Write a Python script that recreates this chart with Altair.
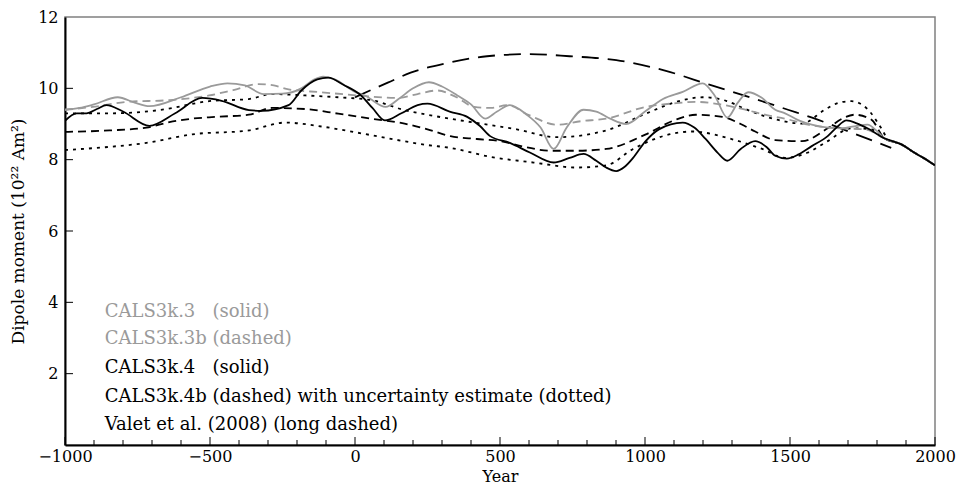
import altair as alt
import pandas as pd

# ---- data ----
gray_solid_year = [-1000, -950, -900, -818, -760, -709, -600, -500, -440, -380, -315, -250, -185, -140, -110, -70, 0, 34, 106, 150, 200, 255, 300, 353, 400, 449, 490, 534, 592, 640, 685, 730, 788, 832, 880, 935, 1000, 1062, 1130, 1199, 1240, 1284, 1320, 1356, 1400, 1449, 1483, 1530, 1575, 1630, 1678, 1730, 1767, 1800, 1825, 1884, 1928, 1960, 2000]
gray_solid_val = [9.40, 9.45, 9.55, 9.75, 9.60, 9.50, 9.75, 10.05, 10.14, 10.08, 9.84, 9.85, 10.0, 10.25, 10.33, 10.25, 9.9, 9.8, 9.48, 9.7, 10.0, 10.17, 10.05, 9.8, 9.55, 9.15, 9.35, 9.53, 9.26, 8.9, 8.3, 8.9, 9.4, 9.35, 9.15, 9.0, 9.35, 9.7, 9.9, 10.14, 9.8, 9.18, 9.6, 9.89, 9.75, 9.4, 9.3, 9.1, 8.98, 8.9, 8.88, 8.95, 8.98, 8.8, 8.6, 8.43, 8.2, 8.05, 7.84]

gray_dash_year = [-1000, -904, -788, -640, -503, -420, -332, -280, -229, -116, 10, 147, 216, 284, 350, 411, 470, 524, 600, 695, 780, 866, 1003, 1100, 1175, 1260, 1346, 1420, 1483, 1562, 1678, 1760, 1825, 1884, 1928, 1960, 2000]
gray_dash_val = [9.4, 9.48, 9.62, 9.67, 9.8, 9.95, 10.12, 10.08, 9.97, 9.89, 9.8, 9.73, 9.84, 9.94, 9.75, 9.48, 9.45, 9.53, 9.25, 8.98, 9.08, 9.15, 9.48, 9.58, 9.62, 9.55, 9.4, 9.25, 9.15, 8.98, 8.88, 8.85, 8.6, 8.43, 8.2, 8.05, 7.84]

black_solid_year = [-1000, -960, -926, -890, -857, -800, -709, -620, -527, -460, -366, -322, -229, -185, -130, -92, -40, 21, 60, 103, 160, 216, 250, 329, 387, 430, 466, 534, 603, 685, 740, 788, 832, 866, 901, 930, 959, 1000, 1048, 1130, 1170, 1209, 1250, 1284, 1330, 1380, 1420, 1449, 1489, 1530, 1575, 1630, 1660, 1695, 1730, 1767, 1825, 1884, 1928, 1960, 2000]
black_solid_val = [9.09, 9.30, 9.30, 9.42, 9.53, 9.35, 8.95, 9.3, 9.73, 9.65, 9.39, 9.37, 9.53, 9.94, 10.25, 10.3, 10.1, 9.8, 9.45, 9.1, 9.3, 9.53, 9.57, 9.34, 9.2, 8.95, 8.66, 8.47, 8.2, 7.92, 8.05, 8.16, 7.97, 7.78, 7.68, 7.8, 8.05, 8.5, 8.85, 9.04, 8.9, 8.58, 8.2, 7.97, 8.3, 8.52, 8.35, 8.11, 8.03, 8.15, 8.38, 8.66, 8.9, 9.1, 9.02, 8.88, 8.6, 8.43, 8.2, 8.05, 7.84]

black_dash_year = [-1000, -846, -719, -640, -561, -480, -366, -286, -171, -58, 55, 171, 250, 329, 420, 500, 590, 671, 760, 866, 1003, 1100, 1175, 1267, 1330, 1380, 1449, 1541, 1630, 1680, 1723, 1781, 1825, 1884, 1928, 1960, 2000]
black_dash_val = [8.78, 8.82, 8.9, 9.05, 9.15, 9.2, 9.26, 9.45, 9.42, 9.29, 9.15, 9.01, 8.85, 8.66, 8.58, 8.52, 8.35, 8.25, 8.25, 8.3, 8.71, 9.1, 9.26, 9.2, 9.0, 8.79, 8.55, 8.52, 8.88, 9.15, 9.26, 9.12, 8.6, 8.43, 8.2, 8.05, 7.84]

upper_year = [-1000, -846, -675, -503, -366, -286, -171, -58, 55, 171, 250, 387, 558, 695, 866, 1003, 1100, 1199, 1280, 1346, 1420, 1483, 1541, 1620, 1670, 1712, 1767, 1815, 1840, 1884, 1928, 1960, 2000]
upper_val = [9.3, 9.3, 9.39, 9.64, 9.7, 9.84, 9.8, 9.75, 9.67, 9.39, 9.26, 9.07, 8.85, 8.63, 8.82, 9.29, 9.6, 9.75, 9.65, 9.42, 9.2, 9.07, 9.01, 9.4, 9.6, 9.64, 9.42, 8.88, 8.55, 8.43, 8.2, 8.05, 7.84]

lower_year = [-1000, -846, -719, -561, -366, -240, -116, 0, 113, 250, 329, 466, 616, 764, 866, 959, 1062, 1164, 1288, 1404, 1483, 1562, 1630, 1712, 1781, 1825, 1884, 1928, 1960, 2000]
lower_val = [8.27, 8.36, 8.47, 8.71, 8.82, 9.04, 8.93, 8.77, 8.6, 8.41, 8.33, 8.08, 7.92, 7.78, 7.84, 8.3, 8.66, 8.79, 8.6, 8.3, 8.05, 8.2, 8.52, 8.88, 8.85, 8.6, 8.43, 8.2, 8.05, 7.84]

valet_year = [0, 113, 192, 318, 455, 603, 740, 901, 1072, 1219, 1380, 1493, 1586, 1699, 1849]
valet_val = [9.75, 10.16, 10.44, 10.71, 10.9, 10.96, 10.9, 10.79, 10.49, 10.11, 9.7, 9.4, 9.15, 8.8, 8.33]

NB = "\u00a0"
legend_text = ["CALS3k.3" + NB * 2 + " (solid)",
               "CALS3k.3b (dashed)",
               "CALS3k.4" + NB * 2 + " (solid)",
               "CALS3k.4b (dashed) with uncertainty estimate (dotted)",
               "Valet et al. (2008) (long dashed)"]
legend_color = ["#9a9a9a", "#9a9a9a", "#000000", "#000000", "#000000"]
legend_y = [3.73, 2.96, 2.16, 1.34, 0.55]
legend_x = [-863, -863, -863, -863, -863]

major_x_ticks = [-1000, -500, 0, 500, 1000, 1500, 2000]
minor_x_ticks = [y for y in range(-900, 2000, 100) if y % 500 != 0]
y_ticks = [2, 4, 6, 8, 10]
y_labels = [2, 4, 6, 8, 10, 12]

W, H = 870, 428
FONT = "DejaVu Serif"
GRAY = "#9a9a9a"

xs = alt.Scale(domain=[-1000, 2000], nice=False, zero=False, padding=0)
ys = alt.Scale(domain=[0, 12], nice=False, zero=False, padding=0)


def series(years, vals):
    return pd.DataFrame({"year": years, "val": vals})


def line(df, color, dash=None, width=1.8):
    kw = dict(color=color, strokeWidth=width, interpolate="monotone", clip=True)
    if dash:
        kw["strokeDash"] = dash
    return alt.Chart(df).mark_line(**kw).encode(
        x=alt.X("year:Q", scale=xs),
        y=alt.Y("val:Q", scale=ys),
    )


base_axes = alt.Chart(series([-1000], [0])).mark_rule(opacity=0).encode(
    x=alt.X("year:Q", scale=xs, title="Year",
            axis=alt.Axis(values=major_x_ticks, ticks=False, grid=False, labelPadding=3,
                          labelFlush=False, labelFont=FONT, labelFontSize=16,
                          titleFont=FONT, titleFontSize=16, titleFontWeight="normal",
                          titleY=23, titleBaseline="top", labelColor="black",
                          titleColor="black", domainColor="black", domainWidth=2, format="d")),
    y=alt.Y("val:Q", scale=ys, title="Dipole moment (10²² Am²)",
            axis=alt.Axis(values=y_labels, ticks=False, grid=False, labelPadding=7,
                          labelFlush=False, labelFont=FONT, labelFontSize=16,
                          titleFont=FONT, titleFontSize=17, titleFontWeight="normal",
                          titlePadding=10, labelColor="black",
                          titleColor="black", domainColor="black", domainWidth=2)),
)

major_ticks = alt.Chart(pd.DataFrame({"t": major_x_ticks})).mark_rule(color="black", strokeWidth=1).encode(
    x=alt.X("t:Q", scale=xs), y=alt.value(H), y2=alt.value(H - 8))
minor_ticks = alt.Chart(pd.DataFrame({"t": minor_x_ticks})).mark_rule(color="black", strokeWidth=1).encode(
    x=alt.X("t:Q", scale=xs), y=alt.value(H), y2=alt.value(H - 5))
yticks = alt.Chart(pd.DataFrame({"t": y_ticks})).mark_rule(color="black", strokeWidth=1).encode(
    y=alt.Y("t:Q", scale=ys), x=alt.value(0), x2=alt.value(8))

legend = alt.Chart(pd.DataFrame({"x": legend_x, "y": legend_y, "text": legend_text,
                                 "c": legend_color})).mark_text(
    align="left", baseline="middle", font=FONT, fontSize=18).encode(
    x=alt.X("x:Q", scale=xs), y=alt.Y("y:Q", scale=ys), text="text:N",
    color=alt.Color("c:N", scale=None))

chart = alt.layer(
    base_axes,
    major_ticks, minor_ticks, yticks,
    line(series(valet_year, valet_val), "black", [17, 9]),
    line(series(upper_year, upper_val), "black", [3, 5]),
    line(series(lower_year, lower_val), "black", [3, 5]),
    line(series(black_dash_year, black_dash_val), "black", [8, 5]),
    line(series(gray_dash_year, gray_dash_val), GRAY, [8, 5]),
    line(series(gray_solid_year, gray_solid_val), GRAY),
    line(series(black_solid_year, black_solid_val), "black"),
    legend,
).properties(
    width=W, height=H,
    autosize=alt.AutoSizeParams(type="none"),
    padding={"left": 57, "top": 9, "right": 23, "bottom": 41},
    background="white",
).configure_view(stroke="#808080", strokeWidth=1.5)

chart.save("out.html", embed_options={"renderer": "svg", "actions": False})
